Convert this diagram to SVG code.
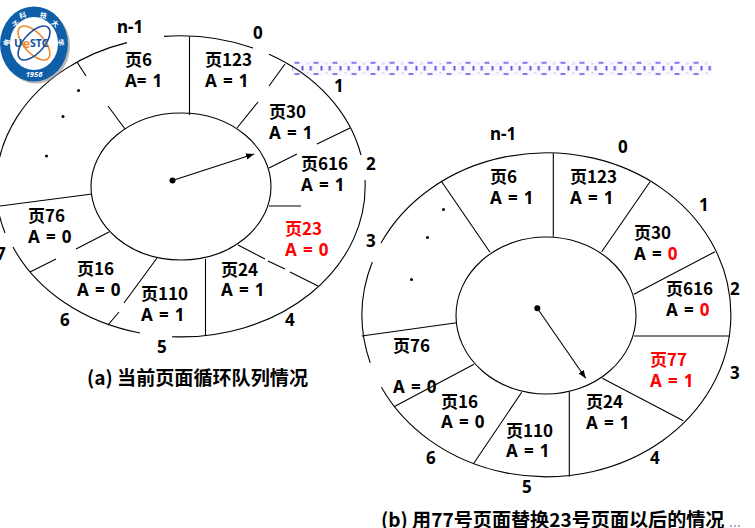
<svg xmlns="http://www.w3.org/2000/svg" width="755" height="528" viewBox="0 0 755 528">
<style>
text{font-family:"Noto Sans","Noto Sans CJK SC",sans-serif;font-size:17px;font-weight:700;fill:#000}
.cjk{font-family:"Noto Sans CJK SC","Noto Sans",sans-serif}
.cap{font-size:19.1px}
.a{word-spacing:1.7px}
.red,.red text{fill:#f00}
.ln{fill:none;stroke:#000;stroke-width:1.1}
.dot{fill:#000}
</style>
<defs>
<marker id="arr" markerWidth="9" markerHeight="7" refX="8" refY="3.5" orient="auto" markerUnits="userSpaceOnUse"><path d="M0,0.4L8,3.5L0,6.6z" fill="#000"/></marker>
<pattern id="band" x="287.5" y="60" width="19" height="16" patternUnits="userSpaceOnUse">
<rect width="19" height="16" fill="#f9f8fe"/>
<rect x="7" y="1.8" width="5" height="2" fill="#8b7bea"/>
<rect x="7" y="13" width="5" height="2" fill="#8b7bea"/>
<rect x="3.2" y="6" width="2" height="4.5" fill="#6655e0"/>
<rect x="14" y="6" width="2" height="4.5" fill="#6655e0"/>
<rect x="0" y="3" width="2" height="1.5" fill="#d4cef5"/>
<rect x="0" y="12" width="2" height="1.5" fill="#d4cef5"/>
</pattern>
</defs>
<rect width="755" height="528" fill="#fff"/>
<rect id="band-strip" x="292" y="60" width="420" height="16" fill="url(#band)"/>
<g id="connectors">
<g id="ring-a">
<ellipse class="ln" cx="181" cy="186.5" rx="90" ry="73.5"/>
<path class="ln" d="M127,42.6A184,150.5 0 0 0 5,233M13,247A184,150.5 0 0 0 140,333M172,336.7A184,150.5 0 0 0 365,180M361,155A184,150.5 0 0 0 269,54.3M253,48A184,150.5 0 0 0 164,36.4"/>
<path class="ln" d="M189.5,36.5V115M285,64L269,86M258,102L237,128M350,128L317,144M297,154L269,168M269,206H301M238,245L265,259M268,261L285,269M290,272L318,286M205.5,259V336M157,258L124,303M119,312L108,325M109,232L76,249M56,259L30,272M0,206L92,194M77,62L86,76M108,106L125,129"/>
<line class="ln" x1="172.5" y1="180.5" x2="254" y2="154" marker-end="url(#arr)"/>
<circle class="dot" cx="172.5" cy="180.5" r="3"/>
<circle class="dot" cx="78.5" cy="90.5" r="1.5"/>
<circle class="dot" cx="63" cy="116.5" r="1.5"/>
<circle class="dot" cx="46.5" cy="156" r="1.5"/>
</g>
<g id="ring-b">
<ellipse class="ln" cx="546" cy="315.5" rx="90" ry="78.5"/>
<path class="ln" d="M370.2,362.7A184.5,162 0 0 1 372.3,262M381,243A184.5,162 0 1 1 381.4,387.3"/>
<path class="ln" d="M553.3,153.3V236.7M650,181.7L601.7,251.7M715,251.7L634,294.3M441.7,181.7L490,252.3M634,336H730M602.3,378.3L683.3,420.7M569.3,391.7V476.7M521.7,392.3L473.3,464M474,364.3L394,406.7M456.7,322.7L361.7,336"/>
<line class="ln" x1="537.3" y1="308.3" x2="585.7" y2="378.3" marker-end="url(#arr)"/>
<circle class="dot" cx="537.3" cy="308.3" r="3"/>
<circle class="dot" cx="443.5" cy="209.5" r="1.5"/>
<circle class="dot" cx="427.5" cy="237.5" r="1.5"/>
<circle class="dot" cx="411.5" cy="279.5" r="1.5"/>
</g>
</g>
<g id="logo">
<ellipse cx="36" cy="46" rx="34" ry="37.5" fill="#888" opacity=".6"/>
<ellipse cx="34" cy="44" rx="34" ry="37.5" fill="#0f5fa8"/>
<ellipse cx="34" cy="43.5" rx="24" ry="26.5" fill="#fff"/>
<ellipse cx="34" cy="43" rx="21" ry="10" transform="rotate(48 34 43)" fill="none" stroke="#ee8a2c" stroke-width="1.6"/>
<ellipse cx="34" cy="43" rx="21" ry="10" transform="rotate(-48 34 43)" fill="none" stroke="#1c4f9c" stroke-width="1.6"/>
<text x="14" y="47" style="font-size:11px;fill:#12509f">U</text>
<text x="22.5" y="47.5" style="font-size:13px;fill:#ee8a2c">e</text>
<text x="30" y="47" style="font-size:10.5px;fill:#12509f">STC</text>
<text class="cjk" x="3" y="46" style="font-size:7px;fill:#fff" transform="rotate(-70 6 43)">电</text>
<text class="cjk" x="12" y="27" style="font-size:7px;fill:#fff" transform="rotate(-40 15 24)">子</text>
<text class="cjk" x="19" y="18" style="font-size:7px;fill:#fff" transform="rotate(-15 22 15)">科</text>
<text class="cjk" x="40" y="18" style="font-size:7px;fill:#fff" transform="rotate(10 43 15)">技</text>
<text class="cjk" x="52" y="26" style="font-size:7px;fill:#fff" transform="rotate(40 55 23)">大</text>
<text class="cjk" x="58" y="45" style="font-size:7px;fill:#fff" transform="rotate(80 61 42)">学</text>
<text x="34" y="77" text-anchor="middle" style="font-size:7.5px;font-style:italic;fill:#fff">1956</text>
</g>
<g id="slots-a">
<text x="117" y="33">n-1</text><text x="253" y="38.5">0</text><text x="334" y="92">1</text><text x="366" y="170">2</text><text x="366" y="247">3</text><text x="285" y="326">4</text><text x="157" y="353">5</text><text x="60" y="326">6</text><text x="-4" y="260">7</text>
</g>
<g id="a-page6"><text class="cjk" x="125" y="66">页6</text><text class="a" x="125" y="87">A= 1</text></g>
<g id="a-page123"><text class="cjk" x="205" y="66">页123</text><text class="a" x="205" y="87">A = 1</text></g>
<g id="a-page30"><text class="cjk" x="269" y="118">页30</text><text class="a" x="269" y="139">A = 1</text></g>
<g id="a-page616"><text class="cjk" x="301" y="170">页616</text><text class="a" x="301" y="191">A = 1</text></g>
<g id="a-page23"><text class="cjk red" x="285" y="235">页23</text><text class="a red" x="285" y="256">A = 0</text></g>
<g id="a-page24"><text class="cjk" x="221" y="276">页24</text><text class="a" x="221" y="296">A = 1</text></g>
<g id="a-page110"><text class="cjk" x="141" y="300">页110</text><text class="a" x="141" y="321">A = 1</text></g>
<g id="a-page16"><text class="cjk" x="77" y="275">页16</text><text class="a" x="77" y="296">A = 0</text></g>
<g id="a-page76"><text class="cjk" x="28" y="222">页76</text><text class="a" x="28" y="243">A = 0</text></g>
<text id="caption-a" class="cjk cap" x="87" y="385">(a) 当前页面循环队列情况</text>
<g id="slots-b">
<text x="490" y="140">n-1</text><text x="618" y="153">0</text><text x="699" y="211">1</text><text x="730" y="295">2</text><text x="730" y="379">3</text><text x="650" y="464">4</text><text x="522" y="493">5</text><text x="426" y="464">6</text>
</g>
<g id="b-page6"><text class="cjk" x="490" y="183">页6</text><text class="a" x="490" y="204">A = 1</text></g>
<g id="b-page123"><text class="cjk" x="570" y="183">页123</text><text class="a" x="570" y="204">A = 1</text></g>
<g id="b-page30"><text class="cjk" x="634" y="239">页30</text><text class="a" x="634" y="260">A = <tspan class="red">0</tspan></text></g>
<g id="b-page616"><text class="cjk" x="666" y="295">页616</text><text class="a" x="666" y="316">A = <tspan class="red">0</tspan></text></g>
<g id="b-page77"><text class="cjk red" x="650" y="366">页77</text><text class="a red" x="650" y="387">A = 1</text></g>
<g id="b-page24"><text class="cjk" x="586" y="408">页24</text><text class="a" x="586" y="429">A = 1</text></g>
<g id="b-page110"><text class="cjk" x="506" y="437">页110</text><text class="a" x="506" y="457">A = 1</text></g>
<g id="b-page16"><text class="cjk" x="441" y="408">页16</text><text class="a" x="441" y="428">A = 0</text></g>
<g id="b-page76"><text class="cjk" x="393" y="352">页76</text><text class="a" x="393" y="393">A = 0</text></g>
<text id="caption-b" class="cjk cap" x="381" y="527">(b) 用77号页面替换23号页面以后的情况</text>
<g id="trail-dots" fill="#3a3fa0"><circle cx="731" cy="526" r=".8"/><circle cx="735" cy="526" r=".8"/><circle cx="739" cy="526" r=".8"/></g>
</svg>
